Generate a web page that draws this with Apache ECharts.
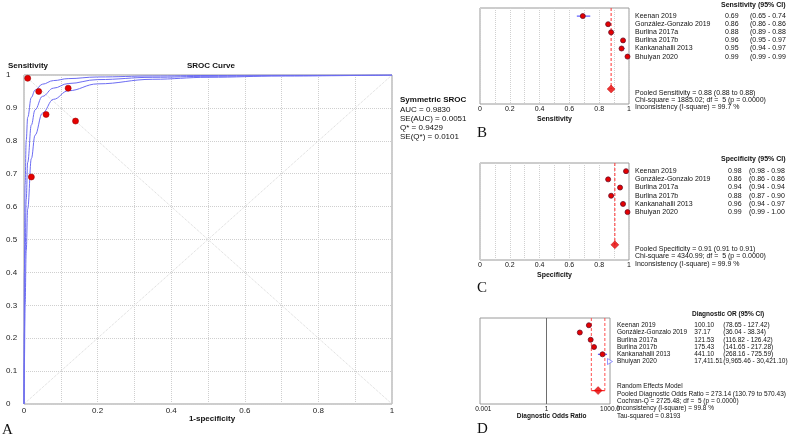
<!DOCTYPE html>
<html><head><meta charset="utf-8">
<script src="https://cdn.jsdelivr.net/npm/echarts@6/dist/echarts.min.js"></script>
<style>html,body{margin:0;padding:0;background:#fff}#c{width:791px;height:436px}</style>
</head><body><div id="c"></div>
<script>
// ---------- data ----------
const studies = ['Keenan 2019','González-Gonzalo 2019','Burlina 2017a','Burlina 2017b','Kankanahalli 2013','Bhuiyan 2020'];
const sens   = [0.69,0.86,0.88,0.96,0.95,0.99];
const sensLo = [0.65,0.86,0.89,0.95,0.94,0.99];
const sensHi = [0.74,0.86,0.88,0.97,0.97,0.99];
const spec   = [0.98,0.86,0.94,0.88,0.96,0.99];
const specLo = [0.98,0.86,0.94,0.87,0.94,0.99];
const specHi = [0.98,0.86,0.94,0.90,0.97,1.00];
const dor    = [100.10,37.17,121.53,175.43,441.10,17411.51];
const dorLo  = [78.65,36.04,116.82,141.65,268.16,9965.46];
const dorHi  = [127.42,38.34,126.42,217.28,725.59,30421.10];
const pooledSens = 0.88;
const pooledSpec = 0.905;
const pooledDor = 273.14, pooledDorLo = 130.79, pooledDorHi = 570.43;
// SROC curves (1-specificity vs sensitivity)
const srocFpr   = [0, 0.001, 0.003, 0.006, 0.01, 0.02, 0.03, 0.05, 0.08, 0.12, 0.2, 0.35, 0.5, 0.7, 1];
const srocMid   = [0, 0.214, 0.451, 0.622, 0.734, 0.848, 0.894, 0.935, 0.960, 0.974, 0.986, 0.993, 0.996, 0.998, 1];
const srocUpper = [0, 0.400, 0.667, 0.801, 0.871, 0.932, 0.954, 0.972, 0.983, 0.989, 0.994, 0.997, 0.9985, 0.9994, 1];
const srocLower = [0, 0.126, 0.302, 0.465, 0.593, 0.746, 0.817, 0.884, 0.926, 0.952, 0.973, 0.987, 0.993, 0.997, 1];
const srocStats = ['AUC = 0.9830','SE(AUC) = 0.0051','Q* = 0.9429','SE(Q*) = 0.0101'];
const sensFoot = ['Pooled Sensitivity = 0.88 (0.88 to 0.88)','Chi-square = 1885.02; df =  5 (p = 0.0000)','Inconsistency (I-square) = 99.7 %'];
const specFoot = ['Pooled Specificity = 0.91 (0.91 to 0.91)','Chi-square = 4340.99; df =  5 (p = 0.0000)','Inconsistency (I-square) = 99.9 %'];
const dorFoot  = ['Random Effects Model','Pooled Diagnostic Odds Ratio = 273.14 (130.79 to 570.43)','Cochran-Q = 2725.48; df =  5 (p = 0.0000)','Inconsistency (I-square) = 99.8 %','Tau-squared = 0.8193'];

// ---------- helpers ----------
const FONT = "Liberation Sans, Arial, sans-serif";
const SERIF = "Liberation Serif, Times New Roman, serif";
const pooledRow = 9;
const dMin = 0.0007, dMax = 1000;
const tenth = v => String(Math.round(v * 10) / 10);
const pair = (xs, ys) => xs.map((x, i) => [x, ys[i]]);
const RED = '#e60000', REDB = '#6a0f2a', BLUE = '#3a3aff';

function forestYAxis(gi) {
  return {gridIndex: gi, type: 'value', min: -1, max: 10.85, inverse: true, show: false};
}
function forestXAxis(gi, name) {
  return {gridIndex: gi, type: 'value', min: 0, max: 1, interval: 0.1,
    axisLine: {show: false}, axisTick: {show: false},
    splitLine: {show: true, lineStyle: {type: 'dotted', color: '#d0d0d0'}},
    axisLabel: {fontSize: 7, fontFamily: FONT, color: '#111', margin: 2,
      formatter: v => (Math.round(v * 10) % 2 === 0 ? tenth(v) : '')},
    name: name, nameLocation: 'middle', nameGap: 12,
    nameTextStyle: {fontSize: 7, fontWeight: 'bold', fontFamily: FONT, color: '#111'}};
}
function ciSeries(gi, lo, hi, xmax) {
  return {type: 'custom', xAxisIndex: gi, yAxisIndex: gi, silent: true, z: 2,
    encode: {x: [0, 1], y: 2},
    data: lo.map((l, i) => [l, hi[i], i]),
    renderItem: (params, api) => {
      const l = api.value(0), h = Math.min(api.value(1), xmax), r = api.value(2);
      if (!(l < h)) return null;
      const p1 = api.coord([l, r]), p2 = api.coord([h, r]);
      return {type: 'line', shape: {x1: p1[0], y1: p1[1], x2: p2[0], y2: p2[1]},
        style: {stroke: BLUE, lineWidth: 1}};
    }};
}
function studyPoints(gi, vals, size) {
  return {type: 'scatter', xAxisIndex: gi, yAxisIndex: gi, z: 4, symbolSize: size,
    data: vals.map((v, i) => [v, i]).filter(d => d[0] <= (gi === 3 ? dMax : 1)),
    itemStyle: {color: RED, borderColor: REDB, borderWidth: 0.8, opacity: 1}};
}
function pooledMarks(gi, val) {
  return [
    {type: 'line', xAxisIndex: gi, yAxisIndex: gi, symbol: 'none', z: 3, silent: true,
      data: [[val, -1], [val, pooledRow]],
      lineStyle: {color: '#ff3030', width: 1, type: [3, 2]}},
    {type: 'scatter', xAxisIndex: gi, yAxisIndex: gi, symbol: 'diamond', symbolSize: 8, z: 5,
      data: [[val, pooledRow]], itemStyle: {color: RED, borderColor: '#c00000', borderWidth: 0.5}}
  ];
}

const chart = echarts.init(document.getElementById('c'), null, {renderer: 'canvas'});
const option = {
  animation: false,
  backgroundColor: '#fff',
  grid: [
    {left: 24, top: 75, width: 368, height: 329, show: true, borderColor: '#9a9a9a', borderWidth: 1},
    {left: 480, top: 8, width: 149, height: 96, show: true, borderColor: '#9a9a9a', borderWidth: 1},
    {left: 480, top: 163, width: 149, height: 97, show: true, borderColor: '#9a9a9a', borderWidth: 1},
    {left: 480, top: 318, width: 130, height: 86, show: true, borderColor: '#9a9a9a', borderWidth: 1}
  ],
  xAxis: [
    {gridIndex: 0, type: 'value', min: 0, max: 1, interval: 0.1,
      axisLine: {show: false}, axisTick: {show: false},
      splitLine: {show: true, lineStyle: {type: 'dotted', color: '#cfcfcf'}},
      axisLabel: {fontSize: 8, fontFamily: FONT, color: '#222', margin: 3,
        formatter: v => (Math.round(v * 10) % 2 === 0 ? tenth(v) : '')}},
    forestXAxis(1, 'Sensitivity'),
    forestXAxis(2, 'Specificity'),
    {gridIndex: 3, type: 'log', logBase: 10, min: dMin, max: dMax,
      axisLine: {show: false}, axisTick: {show: false}, splitLine: {show: false},
      axisLabel: {fontSize: 6.5, fontFamily: FONT, color: '#111', margin: 2, showMinLabel: false,
        formatter: v => {
          const e = Math.log10(v), r = Math.round(e);
          if (Math.abs(e - r) > 1e-6) return '';
          return r === -3 ? '0.001' : r === 0 ? '1' : r === 3 ? '1000.0' : '';
        }}}
  ],
  yAxis: [
    {gridIndex: 0, type: 'value', min: 0, max: 1, interval: 0.1,
      axisLine: {show: false}, axisTick: {show: false},
      splitLine: {show: true, lineStyle: {type: 'dotted', color: '#cfcfcf'}},
      axisLabel: {fontSize: 8, fontFamily: FONT, color: '#222', margin: 18, align: 'left', formatter: tenth}},
    forestYAxis(1), forestYAxis(2), forestYAxis(3)
  ],
  series: [
    // panel A
    {type: 'line', xAxisIndex: 0, yAxisIndex: 0, symbol: 'none', silent: true, z: 1,
      data: [[0, 0], [1, 1]], lineStyle: {color: '#d6d6d6', width: 1, type: 'dotted'}},
    {type: 'line', xAxisIndex: 0, yAxisIndex: 0, symbol: 'none', silent: true, z: 1,
      data: [[0, 1], [1, 0]], lineStyle: {color: '#d6d6d6', width: 1, type: 'dotted'}},
    ...[srocUpper, srocMid, srocLower].map(ys => ({
      type: 'line', xAxisIndex: 0, yAxisIndex: 0, symbol: 'none', silent: true, z: 2,
      smooth: 0.4, smoothMonotone: 'x',
      data: pair(srocFpr, ys), lineStyle: {color: '#6c6cf2', width: 1}})),
    {type: 'scatter', xAxisIndex: 0, yAxisIndex: 0, symbolSize: 6, z: 5,
      data: spec.map((s, i) => [1 - s, sens[i]]),
      itemStyle: {color: RED, borderColor: '#a00000', borderWidth: 0.6, opacity: 1}},
    // panel B
    ciSeries(1, sensLo, sensHi, 1),
    studyPoints(1, sens, 5),
    ...pooledMarks(1, pooledSens),
    // panel C
    ciSeries(2, specLo, specHi, 1),
    studyPoints(2, spec, 5),
    ...pooledMarks(2, pooledSpec),
    // panel D
    {type: 'line', xAxisIndex: 3, yAxisIndex: 3, symbol: 'none', silent: true, z: 1,
      data: [], markLine: {symbol: 'none', silent: true, label: {show: false},
        lineStyle: {color: '#6e6e6e', type: 'solid', width: 1}, data: [{xAxis: 1}]}},
    ciSeries(3, dorLo, dorHi, dMax),
    studyPoints(3, dor, 5),
    {type: 'scatter', xAxisIndex: 3, yAxisIndex: 3, z: 5, symbol: 'path://M0,0 L10,5 L0,10 Z', symbolSize: [5, 6],
      data: dor.map((v, i) => [Math.min(v, dMax), i]).filter((d, i) => dor[i] > dMax),
      itemStyle: {color: '#fff', borderColor: '#5a5aff', borderWidth: 0.8}},
    {type: 'line', xAxisIndex: 3, yAxisIndex: 3, symbol: 'none', silent: true, z: 3,
      data: [[pooledDorLo, -1], [pooledDorLo, pooledRow]], lineStyle: {color: '#ff5050', width: 1, type: [3, 2]}},
    {type: 'line', xAxisIndex: 3, yAxisIndex: 3, symbol: 'none', silent: true, z: 3,
      data: [[pooledDorHi, -1], [pooledDorHi, pooledRow]], lineStyle: {color: '#ff5050', width: 1, type: [3, 2]}},
    {type: 'line', xAxisIndex: 3, yAxisIndex: 3, symbol: 'none', silent: true, z: 3,
      data: [[pooledDorLo, pooledRow], [pooledDorHi, pooledRow]], lineStyle: {color: '#ff3030', width: 1.2}},
    {type: 'scatter', xAxisIndex: 3, yAxisIndex: 3, symbol: 'diamond', symbolSize: 8, z: 5,
      data: [[pooledDor, pooledRow]], itemStyle: {color: RED, borderColor: '#c00000', borderWidth: 0.5}}
  ]
};
chart.setOption(option);

// ---------- texts ----------
function T(x, y, s, o) {
  o = o || {};
  return {type: 'text', x: x, y: y, silent: true, z: 10,
    style: {text: s, fill: o.fill || '#111',
      fontFamily: o.family || FONT, fontSize: o.size || 7, fontWeight: o.bold ? 'bold' : 'normal',
      align: o.align || 'left', verticalAlign: 'middle'}};
}
const rowY = (gi, r) => chart.convertToPixel({gridIndex: gi}, [gi === 3 ? 1 : 0.5, r])[1];
const fmt2 = v => v.toLocaleString('en-US', {minimumFractionDigits: 2, maximumFractionDigits: 2});
const g = [];
// panel A
g.push(T(8, 66, 'Sensitivity', {bold: true, size: 8}));
g.push(T(187, 66, 'SROC Curve', {bold: true, size: 8}));
g.push(T(212, 419, '1-specificity', {bold: true, size: 8, align: 'center'}));
g.push(T(400, 100, 'Symmetric SROC', {bold: true, size: 8}));
srocStats.forEach((s, i) => g.push(T(400, 109.3 + i * 9.3, s, {size: 8})));
g.push(T(2, 430, 'A', {size: 15, family: SERIF}));
// panel B
g.push(T(721, 5, 'Sensitivity (95% CI)', {bold: true}));
studies.forEach((s, i) => {
  const y = rowY(1, i);
  g.push(T(635, y, s));
  g.push(T(725, y, sens[i].toFixed(2)));
  g.push(T(750, y, '(' + sensLo[i].toFixed(2) + ' - ' + sensHi[i].toFixed(2)));
});
sensFoot.forEach((s, i) => g.push(T(635, 92.7 + i * 7.3, s)));
g.push(T(477, 133, 'B', {size: 15, family: SERIF}));
// panel C
g.push(T(721, 159, 'Specificity (95% CI)', {bold: true}));
studies.forEach((s, i) => {
  const y = rowY(2, i);
  g.push(T(635, y, s));
  g.push(T(728, y, spec[i].toFixed(2)));
  g.push(T(749, y, '(' + specLo[i].toFixed(2) + ' - ' + specHi[i].toFixed(2)));
});
specFoot.forEach((s, i) => g.push(T(635, 249 + i * 7.4, s)));
g.push(T(477, 288, 'C', {size: 15, family: SERIF}));
// panel D
g.push(T(692, 314.3, 'Diagnostic OR (95% CI)', {bold: true, size: 6.5}));
studies.forEach((s, i) => {
  const y = rowY(3, i);
  g.push(T(617, y, s, {size: 6.5}));
  g.push(T(694.3, y, fmt2(dor[i]), {size: 6.5}));
  g.push(T(723.3, y, '(' + fmt2(dorLo[i]) + ' - ' + fmt2(dorHi[i]) + ')', {size: 6.5}));
});
dorFoot.forEach((s, i) => g.push(T(617, 386.7 + i * 7.3, s, {size: 6.5})));
g.push(T(551.7, 416, 'Diagnostic Odds Ratio', {bold: true, size: 6.5, align: 'center'}));
g.push(T(477, 429, 'D', {size: 15, family: SERIF}));
chart.setOption({graphic: {elements: g}});
</script>
</body></html>
